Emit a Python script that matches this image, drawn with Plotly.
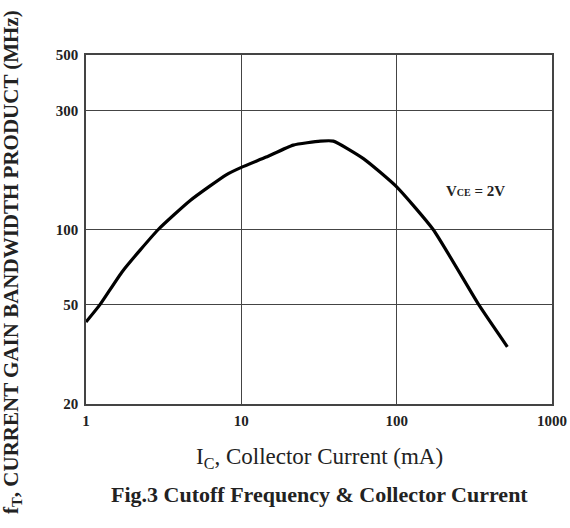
import plotly.graph_objects as go

# Data (Ic in mA, fT in MHz)
ic_ma = [1.0, 1.23, 1.72, 2.92, 4.71, 7.99, 10.0, 14.45, 21.6, 32.3, 39.1, 61.4, 100.0, 171.8, 337.5, 516.0]
ft_mhz = [42.6, 50.0, 68.1, 100.0, 131.0, 165.6, 177.4, 195.0, 217.8, 225.9, 225.9, 191.9, 148.2, 100.0, 50.0, 33.9]

x_ticks = [1, 10, 100, 1000]
x_tick_labels = ["1", "10", "100", "1000"]
y_ticks = [20, 50, 100, 300, 500]
y_tick_labels = ["20", "50", "100", "300", "500"]

serif = "Liberation Serif, Times New Roman, serif"
grid_col = "#444444"
text_col = "#222222"

fig = go.Figure()
fig.add_trace(go.Scatter(
    x=ic_ma, y=ft_mhz, mode="lines",
    line=dict(color="black", width=3.2, shape="spline", smoothing=0.5),
    showlegend=False, hoverinfo="skip",
))

fig.update_layout(
    width=570, height=528, autosize=False,
    margin=dict(l=86, r=18, t=55, b=124),
    paper_bgcolor="white", plot_bgcolor="white",
    font=dict(family=serif, color=text_col),
    xaxis=dict(
        type="log", range=[0, 3], automargin=False,
        tickvals=x_ticks, ticktext=[f"<b>{t}</b>" for t in x_tick_labels],
        showgrid=True, gridcolor=grid_col, gridwidth=1,
        showline=True, linecolor=grid_col, linewidth=1.5, mirror=True,
        ticks="", tickfont=dict(size=15, family=serif, color=text_col),
        ticklabelstandoff=2,
        zeroline=False,
    ),
    yaxis=dict(
        type="log", range=[1.30103, 2.69897], automargin=False,
        tickvals=y_ticks, ticktext=[f"<b>{t}</b>" for t in y_tick_labels],
        showgrid=True, gridcolor=grid_col, gridwidth=1,
        showline=True, linecolor=grid_col, linewidth=1.5, mirror=True,
        ticks="", tickfont=dict(size=15, family=serif, color=text_col),
        ticklabelstandoff=3,
        zeroline=False,
    ),
)

# V_CE annotation
fig.add_annotation(
    x=0.836, y=0.610, xref="paper", yref="paper",
    xanchor="center", yanchor="middle",
    text="<b>V<span style='font-size:10px'>CE</span> = 2V</b>",
    showarrow=False, font=dict(size=15, family=serif, color=text_col),
)

# Y axis title
fig.add_annotation(
    x=0, y=0.407, xref="paper", yref="paper", xshift=-74,
    xanchor="center", yanchor="middle",
    text="<b>f<sub>T</sub>, CURRENT GAIN BANDWIDTH PRODUCT (MHz)</b>",
    textangle=-90, showarrow=False,
    font=dict(size=21, family=serif, color=text_col),
)

# X axis title
fig.add_annotation(
    x=0.5, y=0, xref="paper", yref="paper", yshift=-54,
    xanchor="center", yanchor="middle",
    text="I<sub>C</sub>, Collector Current (mA)",
    showarrow=False, font=dict(size=23, family=serif, color=text_col),
)

# Caption
fig.add_annotation(
    x=0.5, y=0, xref="paper", yref="paper", yshift=-90,
    xanchor="center", yanchor="middle",
    text="<b>Fig.3 Cutoff Frequency &amp; Collector Current</b>",
    showarrow=False, font=dict(size=22, family=serif, color=text_col),
)

post = (
    "document.documentElement.style.overflow='hidden';"
    "document.body.style.margin='0';document.body.style.overflow='hidden';"
)
fig.write_html(
    "out.html",
    config={"displayModeBar": False},
    post_script=post,
)
